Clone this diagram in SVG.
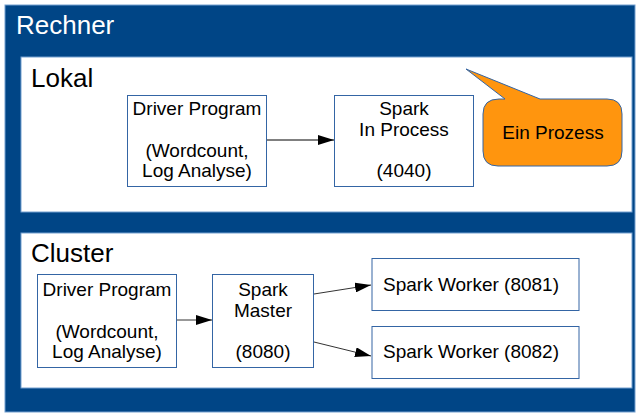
<svg xmlns="http://www.w3.org/2000/svg" width="638" height="416" viewBox="0 0 638 416">
<style>
text{font-family:"Liberation Sans",Arial,sans-serif;}
.box{fill:#fff;stroke:#3465a4;stroke-width:1;}
.t{font-size:19px;fill:#000;text-anchor:middle;}
.tl{font-size:19px;fill:#000;}
.h{font-size:26px;fill:#000;}
.c{stroke:#000;stroke-width:1;fill:none;}
.cg{stroke:#333;stroke-width:1;fill:none;}
</style>
<defs>
<marker id="ah" markerWidth="16" markerHeight="10" refX="16" refY="5" orient="auto" markerUnits="userSpaceOnUse">
<path d="M0,0 L16,5 L0,10 Z" fill="#000"/>
</marker>
</defs>
<rect x="0" y="0" width="638" height="416" fill="#fff"/>
<g id="rechner">
<rect x="5" y="5" width="630" height="407" fill="#004586" stroke="#729fcf" stroke-width="1"/>
<text x="16" y="34" style="font-size:26px" fill="#fff">Rechner</text>
</g>
<g id="lokal">
<rect x="21" y="57" width="611" height="155" fill="#fff" stroke="#729fcf" stroke-width="1"/>
<text class="h" x="31" y="87">Lokal</text>
</g>
<g id="cluster">
<rect x="21" y="233" width="611" height="155" fill="#fff" stroke="#729fcf" stroke-width="1"/>
<text class="h" x="31" y="262">Cluster</text>
</g>
<g id="driver-lokal">
<rect class="box" x="127.5" y="95.5" width="139" height="91"/>
<text class="t" x="197" y="115">Driver Program</text>
<text class="t" x="197" y="157">(Wordcount,</text>
<text class="t" x="197" y="177">Log Analyse)</text>
</g>
<g id="spark-inprocess">
<rect class="box" x="334.5" y="95.5" width="139" height="91"/>
<text class="t" x="404" y="115">Spark</text>
<text class="t" x="404" y="136">In Process</text>
<text class="t" x="404" y="177">(4040)</text>
</g>
<g id="callout">
<path d="M499,99 L505,99 L466,69 L540,99 L607,99 Q622,99 622,114 L622,151 Q622,166 607,166 L498,166 Q483,166 483,151 L483,114 Q483,99 499,99 Z" fill="#ff950e" stroke="#3465a4" stroke-width="1"/>
<text class="t" x="553" y="139">Ein Prozess</text>
</g>
<g id="driver-cluster">
<rect class="box" x="37.5" y="274.5" width="139" height="93"/>
<text class="t" x="107" y="296">Driver Program</text>
<text class="t" x="107" y="338">(Wordcount,</text>
<text class="t" x="107" y="358">Log Analyse)</text>
</g>
<g id="spark-master">
<rect class="box" x="212.5" y="274.5" width="101" height="93"/>
<text class="t" x="263" y="296">Spark</text>
<text class="t" x="263" y="317">Master</text>
<text class="t" x="263" y="358">(8080)</text>
</g>
<g id="worker1">
<rect class="box" x="372" y="258.5" width="207" height="52"/>
<text class="tl" x="383" y="291">Spark Worker (8081)</text>
</g>
<g id="worker2">
<rect class="box" x="372" y="326.5" width="207" height="52"/>
<text class="tl" x="383" y="358">Spark Worker (8082)</text>
</g>
<g id="connectors">
<line class="c" x1="267" y1="140" x2="334" y2="140" marker-end="url(#ah)"/>
<line class="cg" x1="177" y1="320" x2="212" y2="320" marker-end="url(#ah)"/>
<line class="cg" x1="314" y1="294" x2="371" y2="285" marker-end="url(#ah)"/>
<line class="cg" x1="314" y1="342" x2="371" y2="356" marker-end="url(#ah)"/>
</g>
</svg>
